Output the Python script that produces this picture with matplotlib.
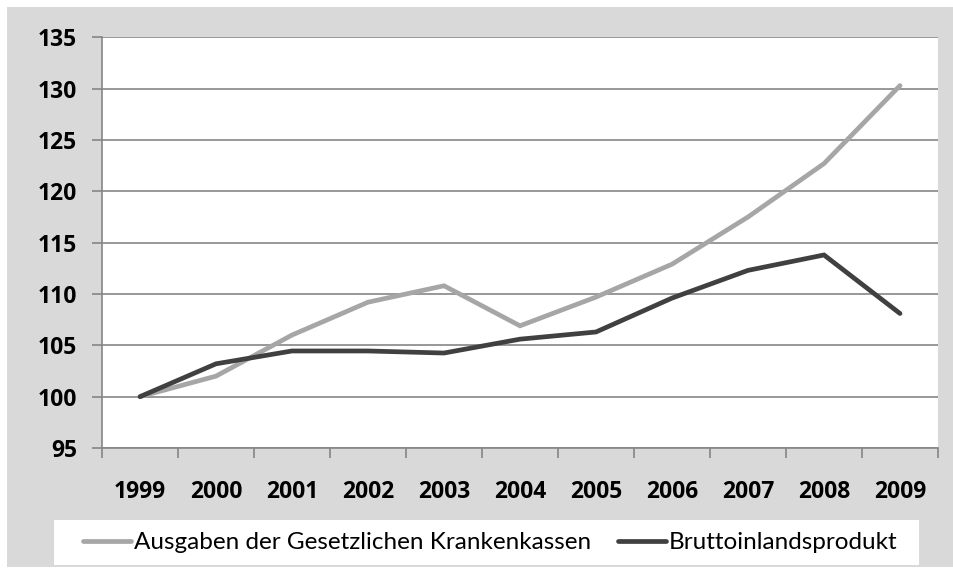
import matplotlib
matplotlib.use("Agg")
import matplotlib.pyplot as plt
from matplotlib.patches import Rectangle
import numpy as np

years = ["1999", "2000", "2001", "2002", "2003", "2004", "2005", "2006", "2007", "2008", "2009"]
ausgaben_gkv = [100.0, 102.0, 106.0, 109.2, 110.8, 106.9, 109.7, 112.9, 117.5, 122.7, 130.3]
bip = [100.0, 103.2, 104.45, 104.45, 104.25, 105.6, 106.3, 109.6, 112.3, 113.8, 108.1]
series_labels = ["Ausgaben der Gesetzlichen Krankenkassen", "Bruttoinlandsprodukt"]
y_ticks = [95, 100, 105, 110, 115, 120, 125, 130, 135]

TICK_FONT = "Open Sans"
LEG_FONT = "Lato"
W, H = 954, 578
fig = plt.figure(figsize=(W / 100, H / 100), dpi=100)
fig.patch.set_facecolor("white")

# gray chart background
fig.patches.append(Rectangle((7 / W, 11 / H), 1 - 7 / W, 1 - 7 / H - 11 / H,
                             transform=fig.transFigure, facecolor="#d9d9d9",
                             edgecolor="none", zorder=0))
# legend white box
fig.patches.append(Rectangle((54 / W, (H - 565) / H), (919 - 54) / W, 45 / H,
                             transform=fig.transFigure, facecolor="white",
                             edgecolor="none", zorder=1))

ax = fig.add_axes([102 / W, (H - 448) / H, (938 - 102) / W, (448 - 37.3) / H])
ax.set_zorder(3)
ax.set_facecolor("white")
x = np.arange(len(years))
ax.set_xlim(-0.5, len(years) - 0.5)
ax.set_ylim(95, 135)

grid_c = "#868686"
ax.set_yticks(y_ticks)
ax.yaxis.grid(True, color=grid_c, linewidth=1.2)
ax.set_axisbelow(True)
for s in ["top", "right"]:
    ax.spines[s].set_visible(False)
for s in ["left", "bottom"]:
    ax.spines[s].set_color(grid_c)
    ax.spines[s].set_linewidth(1.2)

ax.set_xticks(np.arange(-0.5, len(years), 1.0))
ax.set_xticklabels([])
ax.set_xticks(x, minor=True)
ax.set_xticklabels(years, minor=True)
ax.tick_params(axis="x", which="major", length=7, color=grid_c, width=1.2)
ax.tick_params(axis="x", which="minor", length=0, pad=23)
ax.tick_params(axis="y", length=7, color=grid_c, width=1.2, pad=11)
for lab in ax.get_xticklabels(minor=True) + ax.get_yticklabels():
    lab.set_fontfamily(TICK_FONT)
    lab.set_fontweight("bold")
    lab.set_fontsize(16.5)
    lab.set_color("black")

l1, = ax.plot(x, ausgaben_gkv, color="#a6a6a6", linewidth=3.4,
              solid_capstyle="round", solid_joinstyle="miter", label=series_labels[0])
l2, = ax.plot(x, bip, color="#404040", linewidth=3.4,
              solid_capstyle="round", solid_joinstyle="miter", label=series_labels[1])

leg = fig.legend(handles=[l1, l2], loc="center", bbox_to_anchor=(490 / W, (H - 542.5) / H),
                 ncol=2, frameon=False, prop={"family": LEG_FONT, "size": 17.5},
                 handlelength=2.0, handletextpad=0.1, columnspacing=1.1)
leg.set_zorder(4)

fig.savefig("out.png", dpi=100, facecolor=fig.get_facecolor())
